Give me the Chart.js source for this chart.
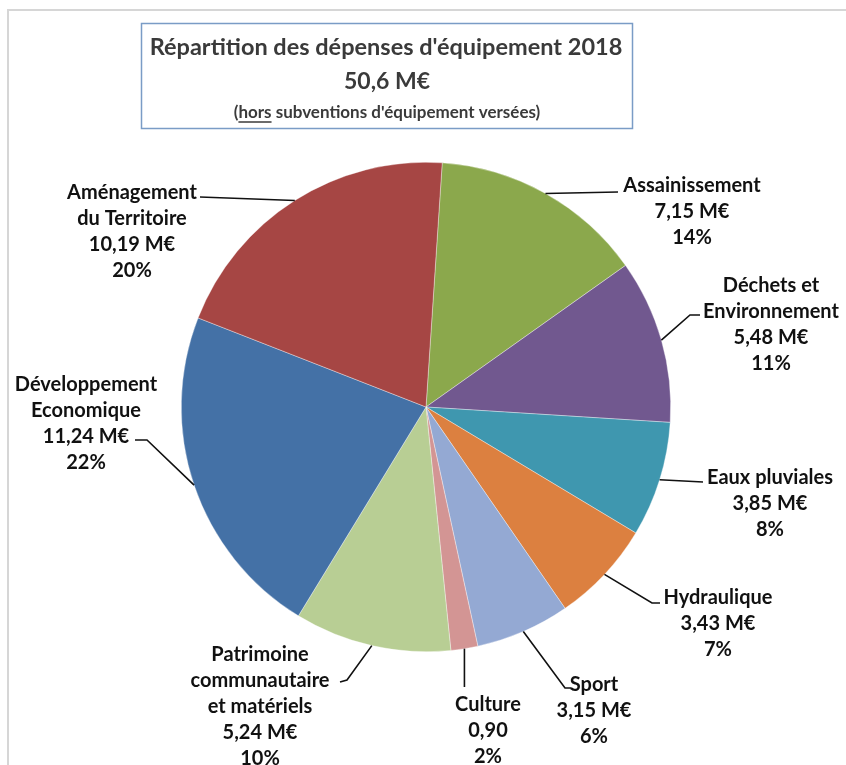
<!DOCTYPE html>
<html>
<head>
<meta charset="utf-8">
<script src="https://cdn.jsdelivr.net/npm/chart.js@4/dist/chart.umd.min.js"></script>
<style>
html,body{margin:0;padding:0;background:#fff;}
#wrap{width:846px;height:765px;position:relative;}
</style>
</head>
<body>
<div id="wrap"><canvas id="c" width="846" height="765"></canvas></div>
<script>
// ---- data ----
const categories = ['Assainissement','Déchets et Environnement','Eaux pluviales','Hydraulique','Sport','Culture','Patrimoine communautaire et matériels','Développement Economique','Aménagement du Territoire'];
const values = [7.15, 5.48, 3.85, 3.43, 3.15, 0.90, 5.24, 11.24, 10.19];
const nameLines = [['Assainissement'],['Déchets et','Environnement'],['Eaux pluviales'],['Hydraulique'],['Sport'],['Culture'],['Patrimoine','communautaire','et matériels'],['Développement','Economique'],['Aménagement','du Territoire']];
const valueUnits = [' M€',' M€',' M€',' M€',' M€','',' M€',' M€',' M€'];
const titleLines = ["Répartition des dépenses d'équipement 2018", '50,6 M€', "(hors subventions d'équipement versées)"];
const colors = ['#8BA84C','#71588F','#3F97AF','#DC8040','#94A9D3','#D39594','#B8CE94','#4471A6','#A64644'];

// ---- label layout (text block: center x, first line y; leader points after the arc anchor) ----
const labelLayout = [
  {cx:692, y0:186, leader:[[618,192]]},
  {cx:771, y0:286, leader:[[690,315],[700,315]]},
  {cx:770, y0:478, leader:[[703,482]]},
  {cx:718, y0:598, leader:[[652,603],[660,603]]},
  {cx:594, y0:685, leader:[[565,688],[571,688]]},
  {cx:488, y0:705, leader:[['v',687]]},
  {cx:260, y0:655, leader:[[347,680],[340,682]]},
  {cx:86,  y0:385, leader:[[147,440],[135,440]]},
  {cx:132, y0:193, leader:[[200,197]]}
];
const LINE_H = 26;
const LABEL_FONT = 'bold 20px Lato, "Open Sans", sans-serif';

const total = values.reduce((a,b)=>a+b,0);
function fmt(v){ return v.toFixed(2).replace('.', ','); }

const frameTitle = {
  id:'frameTitle',
  beforeDraw(chart){
    const ctx = chart.ctx;
    ctx.save();
    ctx.fillStyle='#fff'; ctx.fillRect(0,0,chart.width,chart.height);
    // outer frame
    ctx.strokeStyle='#d6d6d6'; ctx.lineWidth=2;
    ctx.beginPath(); ctx.moveTo(8,765); ctx.lineTo(8,10); ctx.lineTo(846,10); ctx.stroke();
    // title box
    ctx.strokeStyle='#7a9cc6'; ctx.lineWidth=1.5;
    ctx.strokeRect(141.5,23.5,491,105);
    ctx.fillStyle='#3a3a3a';
    ctx.textAlign='center'; ctx.textBaseline='middle';
    ctx.font='bold 23.5px Lato, "Open Sans", sans-serif';
    ctx.fillText(titleLines[0], 386, 47);
    ctx.font='bold 23px Lato, "Open Sans", sans-serif';
    ctx.fillText(titleLines[1], 387, 82);
    ctx.font='bold 17px Lato, "Open Sans", sans-serif';
    ctx.fillText(titleLines[2], 387, 113);
    const tw = ctx.measureText(titleLines[2]).width;
    const x0 = 387 - tw/2;
    const a = ctx.measureText('(').width, b = ctx.measureText('(hors').width;
    ctx.strokeStyle='#3a3a3a'; ctx.lineWidth=1.3;
    ctx.beginPath(); ctx.moveTo(x0+a, 122); ctx.lineTo(x0+b, 122); ctx.stroke();
    ctx.restore();
  }
};

const labelsPlugin = {
  id:'pieLabels',
  afterDatasetsDraw(chart){
    const ctx = chart.ctx;
    const meta = chart.getDatasetMeta(0);
    ctx.save();
    meta.data.forEach((arc,i)=>{
      const p = arc.getProps(['x','y','startAngle','endAngle','outerRadius'], true);
      const mid = (p.startAngle+p.endAngle)/2;
      const ax = p.x + Math.cos(mid)*p.outerRadius;
      const ay = p.y + Math.sin(mid)*p.outerRadius;
      const L = labelLayout[i];
      ctx.strokeStyle='#111'; ctx.lineWidth=1.6;
      ctx.beginPath(); ctx.moveTo(ax,ay);
      L.leader.forEach(pt=>{
        if(pt[0]==='v') ctx.lineTo(ax, pt[1]); else ctx.lineTo(pt[0],pt[1]);
      });
      ctx.stroke();
      const lines = nameLines[i].concat([fmt(values[i])+valueUnits[i], Math.round(values[i]/total*100)+'%']);
      ctx.fillStyle='#111'; ctx.font=LABEL_FONT;
      ctx.textAlign='center'; ctx.textBaseline='middle';
      lines.forEach((t,k)=> ctx.fillText(t, L.cx, L.y0 + k*LINE_H));
    });
    ctx.restore();
  }
};

new Chart(document.getElementById('c'), {
  type:'pie',
  data:{ labels:categories, datasets:[{ data:values, backgroundColor:colors, borderColor:'rgba(255,255,255,0.6)', borderWidth:0.6 }] },
  options:{
    responsive:false, animation:false,
    rotation:3.8,
    layout:{ padding:{ left:181, right:175, top:162, bottom:113 } },
    plugins:{ legend:{display:false}, tooltip:{enabled:false}, title:{display:false} }
  },
  plugins:[frameTitle, labelsPlugin]
});
</script>
</body>
</html>
